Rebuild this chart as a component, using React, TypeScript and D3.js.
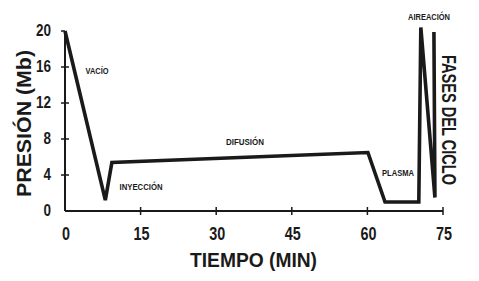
import React from "react";
import * as d3 from "d3";

const times = [0, 8, 9.3, 60.1, 63.5, 70.2, 70.6, 73.4, 73.2];
const pressures = [20, 1.2, 5.4, 6.5, 1.0, 1.0, 20.4, 1.5, 19.9];
const xTicks = [0, 15, 30, 45, 60, 75];
const yTicks = [0, 4, 8, 12, 16, 20];
const phaseLabels = ["VACÍO", "INYECCIÓN", "DIFUSIÓN", "PLASMA", "AIREACIÓN"];
const phaseX = [97, 141, 245, 398, 429];
const phaseY = [74, 190, 145, 176, 20];
const phaseW = [23, 43, 38, 32, 42];

const W = 479;
const H = 281;
const FONT = "'Liberation Sans Narrow', 'Arial Narrow', 'Liberation Sans', Arial, sans-serif";

export default function App() {
  const x = d3.scaleLinear().domain([0, 75]).range([65, 443]);
  const y = d3.scaleLinear().domain([0, 20]).range([211, 31]);
  const line = d3
    .line<number>()
    .x((_, i) => x(times[i]))
    .y((d) => y(d));
  const ink = "#1a1a1a";
  return (
    <svg
      width={W}
      height={H}
      style={{ position: "absolute", left: 0, top: 0, background: "#fff" }}
    >
      {/* axes */}
      <line x1={x(0)} x2={x(75)} y1={y(0)} y2={y(0)} stroke={ink} strokeWidth={2} />
      <line x1={x(0)} x2={x(0)} y1={y(0)} y2={y(20)} stroke={ink} strokeWidth={2} />
      {xTicks.slice(1).map((t) => (
        <line key={"xt" + t} x1={x(t)} x2={x(t)} y1={y(0) - 4} y2={y(0) + 4} stroke={ink} strokeWidth={1.5} />
      ))}
      {yTicks.slice(1).map((t) => (
        <line
          key={"yt" + t}
          x1={x(0) - 4}
          x2={t === 20 ? x(0) : x(0) + 4}
          y1={y(t)}
          y2={y(t)}
          stroke={ink}
          strokeWidth={1.5}
        />
      ))}
      {xTicks.map((t) => (
        <text
          key={"xl" + t}
          x={x(t) + 1}
          y={240}
          textAnchor="middle"
          fontFamily={FONT}
          fontWeight="bold"
          fontSize={18}
          fill={ink}
          textLength={String(t).length * 8}
          lengthAdjust="spacingAndGlyphs"
        >
          {t}
        </text>
      ))}
      {yTicks.map((t) => (
        <text
          key={"yl" + t}
          x={51}
          y={y(t) + 5}
          textAnchor="end"
          fontFamily={FONT}
          fontWeight="bold"
          fontSize={16}
          fill={ink}
          textLength={String(t).length * 7.5}
          lengthAdjust="spacingAndGlyphs"
        >
          {t}
        </text>
      ))}
      {/* axis titles */}
      <text
        x={190}
        y={267}
        fontFamily={FONT}
        fontWeight="bold"
        fontSize={20}
        fill={ink}
        textLength={127}
        lengthAdjust="spacingAndGlyphs"
      >
        TIEMPO (MIN)
      </text>
      <text
        transform="translate(31,197) rotate(-90)"
        fontFamily={FONT}
        fontWeight="bold"
        fontSize={20}
        fill={ink}
        textLength={147}
        lengthAdjust="spacingAndGlyphs"
      >
        PRESIÓN (Mb)
      </text>
      <text
        transform="translate(442,55) rotate(90)"
        fontFamily={FONT}
        fontWeight="bold"
        fontSize={20}
        fill={ink}
        textLength={130}
        lengthAdjust="spacingAndGlyphs"
      >
        FASES DEL CICLO
      </text>
      {/* phase labels */}
      {phaseLabels.map((s, i) => (
        <text
          key={s}
          x={phaseX[i]}
          y={phaseY[i]}
          textAnchor="middle"
          fontFamily={FONT}
          fontWeight="bold"
          fontSize={9}
          fill={ink}
          textLength={phaseW[i]}
          lengthAdjust="spacingAndGlyphs"
        >
          {s}
        </text>
      ))}
      {/* pressure curve */}
      <path
        d={line(pressures) || ""}
        fill="none"
        stroke={ink}
        strokeWidth={3.6}
        strokeLinejoin="miter"
        strokeMiterlimit={3}
      />
    </svg>
  );
}
